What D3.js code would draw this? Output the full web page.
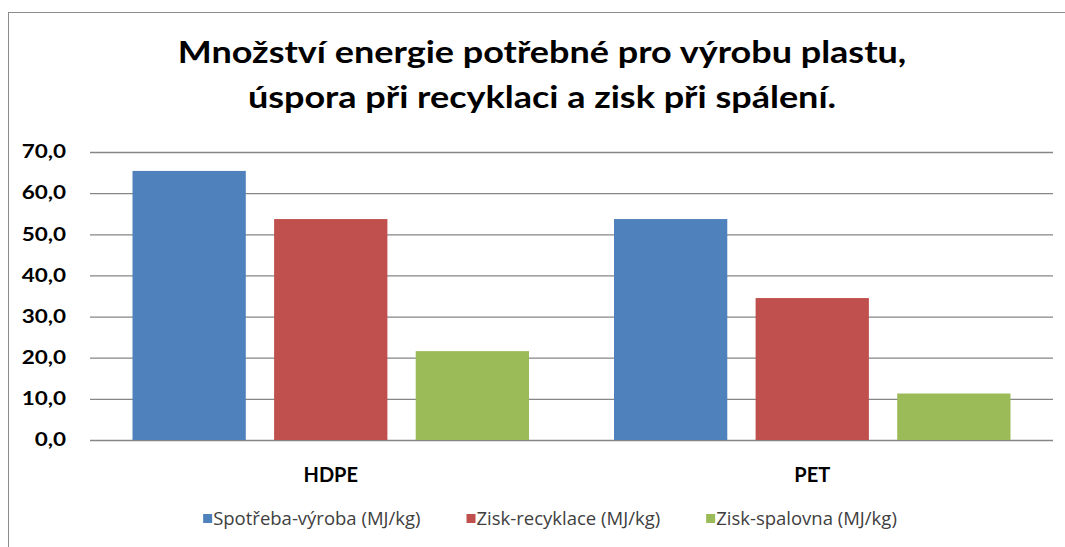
<!DOCTYPE html>
<html>
<head>
<meta charset="utf-8">
<script src="https://cdn.jsdelivr.net/npm/d3@7"></script>
<style>
  body { margin: 0; background: #fff; overflow: hidden; }
  svg { display: block; }
</style>
</head>
<body>
<svg width="1065" height="547"></svg>
<script>
// data
const kategorie = ["HDPE", "PET"];
const serie = ["Spotřeba-výroba (MJ/kg)", "Zisk-recyklace (MJ/kg)", "Zisk-spalovna (MJ/kg)"];
const hodnoty_spotreba = [65.4, 53.7];
const hodnoty_recyklace = [53.7, 34.5];
const hodnoty_spalovna = [21.6, 11.3];
const ticky = [0, 10, 20, 30, 40, 50, 60, 70];
const barvy = ["#4F81BD", "#C0504D", "#9BBB59"];
const titulek = ["Množství energie potřebné pro výrobu plastu,", "úspora při recyklaci a zisk při spálení."];

const tabulka = kategorie.map((k, i) => ({
    kat: k,
    vals: [hodnoty_spotreba[i], hodnoty_recyklace[i], hodnoty_spalovna[i]]
}));

const svg = d3.select("svg");
const gauche = 90, droite = 1053, haut = 152, bas = 440;
const etirement = 1.2; // le texte de l'original est un peu etire en largeur

// cadre
svg.append("rect")
    .attr("x", 8.5).attr("y", 12.5)
    .attr("width", 2000).attr("height", 2000)
    .style("fill", "none").style("stroke", "#8c8c8c").style("stroke-width", 1);

// titre
svg.append("g").selectAll("text")
    .data(titulek)
    .join("text")
    .attr("transform", (d, i) => `translate(542,${63 + i * 45}) scale(${etirement},1)`)
    .attr("text-anchor", "middle")
    .style("font-family", "Lato, 'Open Sans', sans-serif")
    .style("font-weight", "bold")
    .style("font-size", "30px")
    .style("fill", "#000")
    .text(d => d);

const y = d3.scaleLinear().domain([0, 70]).range([bas, haut]);
const x0 = d3.scaleBand().domain(kategorie).range([gauche, droite]);
const marge = 42.5;
const x1 = d3.scaleBand().domain(serie)
    .range([marge, x0.bandwidth() - marge])
    .paddingInner(0.2);

// lignes de grille
svg.append("g")
    .attr("transform", `translate(${gauche},0)`)
    .call(d3.axisLeft(y).tickValues(ticky).tickSize(-(droite - gauche)).tickFormat(""))
    .call(g => g.select(".domain").remove())
    .call(g => g.selectAll("line").style("stroke", "#868686").style("stroke-width", 1.3));

// etiquettes axe y
svg.append("g")
    .attr("transform", `translate(${gauche},0)`)
    .call(d3.axisLeft(y).tickValues(ticky).tickSize(0)
        .tickFormat(d => d3.format(".1f")(d).replace(".", ",")))
    .call(g => g.select(".domain").remove())
    .call(g => g.selectAll("text")
        .attr("x", -23 / etirement)
        .attr("transform", `scale(${etirement + 0.05},1)`)
        .style("font-family", "Lato, 'Open Sans', sans-serif")
        .style("font-weight", "bold")
        .style("font-size", "18px")
        .style("fill", "#000"));

// barres
svg.append("g")
    .selectAll(".groupe")
    .data(tabulka)
    .join("g")
    .attr("class", "groupe")
    .attr("transform", d => `translate(${x0(d.kat)},0)`)
    .selectAll("rect")
    .data(d => d.vals.map((v, i) => ({ s: serie[i], v: v, c: barvy[i] })))
    .join("rect")
    .attr("x", d => x1(d.s))
    .attr("width", x1.bandwidth())
    .attr("y", d => y(d.v))
    .attr("height", d => bas - y(d.v))
    .style("fill", d => d.c);

// axe x
svg.append("g")
    .attr("transform", `translate(0,${bas})`)
    .call(d3.axisBottom(x0).tickSize(0).tickPadding(28))
    .call(g => g.select(".domain").remove())
    .call(g => g.selectAll("text")
        .style("font-family", "Lato, 'Open Sans', sans-serif")
        .style("font-weight", "bold")
        .style("font-size", "20px")
        .style("fill", "#000"));

// legende
const leg = svg.append("g").attr("class", "legende");
const items = leg.selectAll(".item")
    .data(serie)
    .join("g")
    .attr("class", "item");
items.append("rect")
    .attr("width", 9).attr("height", 9)
    .attr("y", -5)
    .style("fill", (d, i) => barvy[i]);
items.append("text")
    .attr("x", 10)
    .attr("dy", "0.35em")
    .style("font-family", "'Open Sans', Lato, sans-serif")
    .style("font-size", "18.5px")
    .style("fill", "#404040")
    .text(d => d);

let pos = 0;
const espace = 46;
const positions = [];
items.each(function () {
    positions.push(pos);
    const w = d3.select(this).select("text").node().getComputedTextLength();
    pos += 10 + w + espace;
});
const total = pos - espace;
const depart = 550 - total / 2;
items.attr("transform", (d, i) => `translate(${depart + positions[i]},519)`);
</script>
</body>
</html>
